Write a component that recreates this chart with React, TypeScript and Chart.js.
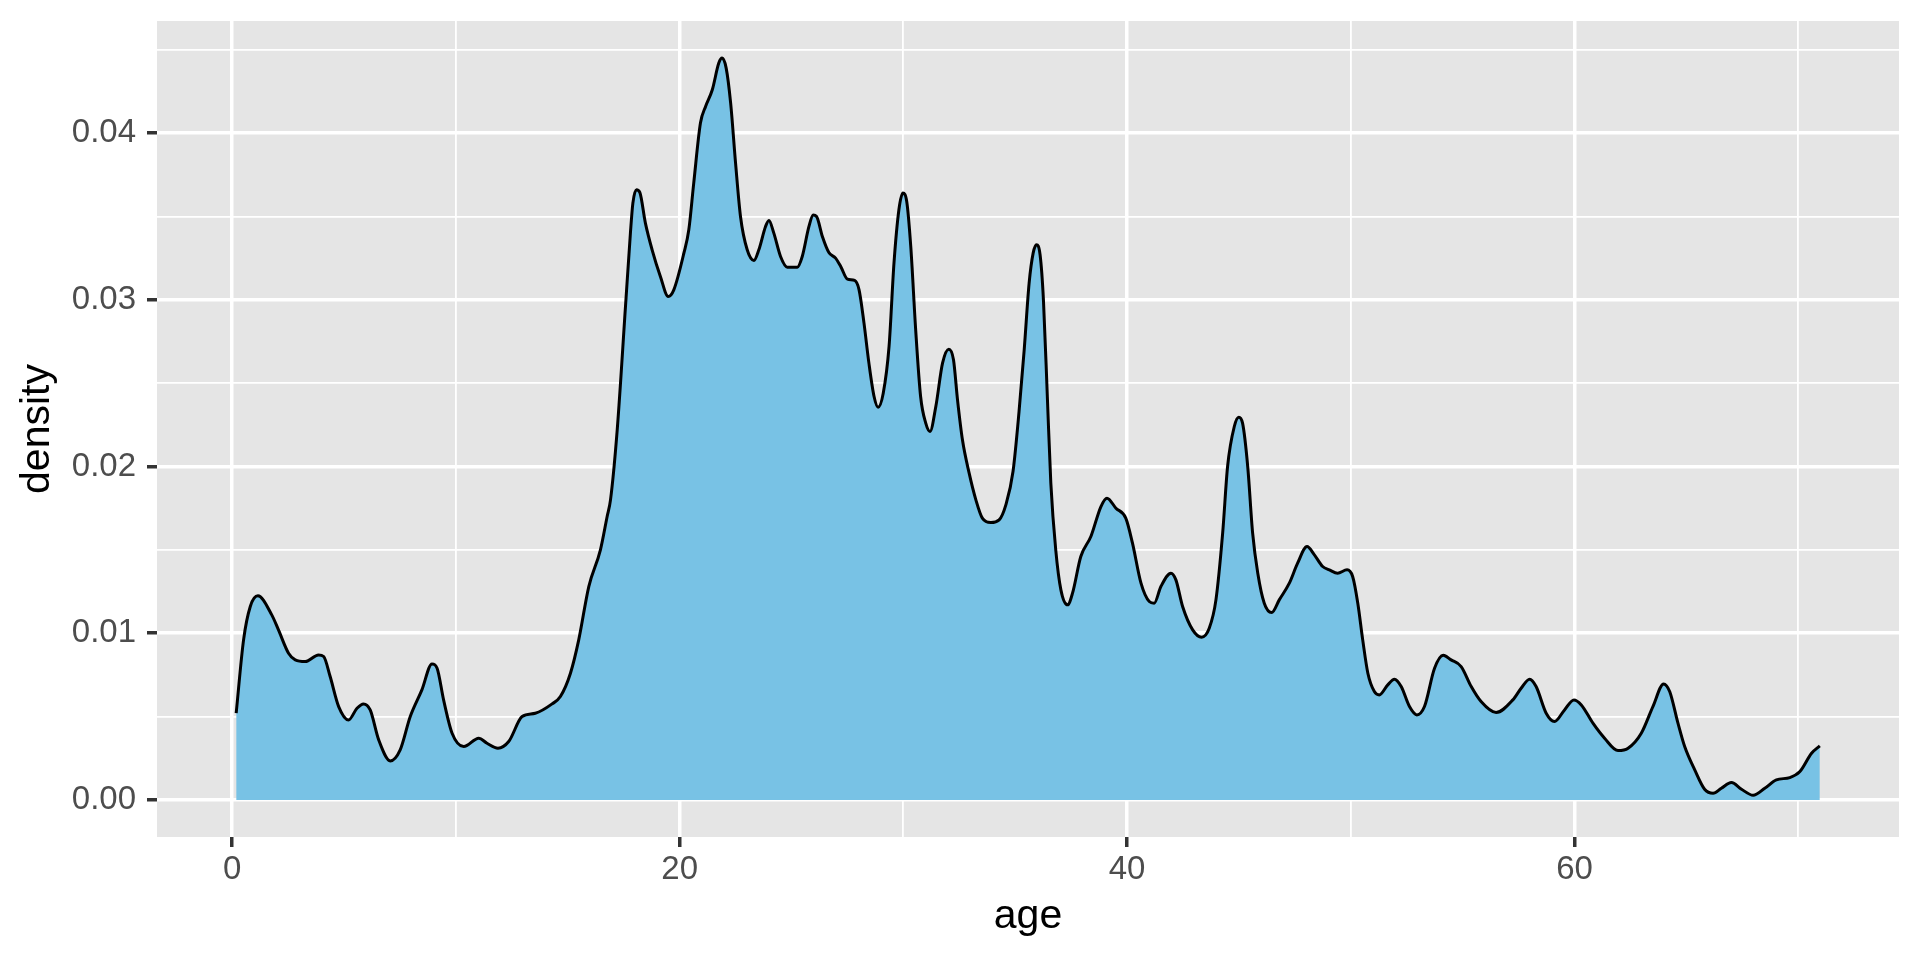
import React, { useEffect, useRef } from "react";
import { Chart, registerables } from "chart.js";

Chart.register(...registerables);

// Density curve (age -> density)
const ages = [
  0.18, 0.51, 0.81, 1.15, 1.77, 2.07, 2.52, 2.82, 3.27, 3.86, 4.09, 4.38, 4.76, 5.2, 5.58, 5.87,
  6.17, 6.55, 7.07, 7.51, 7.96, 8.48, 8.93, 9.16, 9.45, 9.83, 10.35, 11.02, 11.39, 11.88, 12.36,
  12.96, 13.55, 14.3, 14.67, 15.12, 15.49, 15.94, 16.46, 16.76, 16.91, 17.21, 17.58, 17.8, 17.91,
  18.07, 18.22, 18.47, 18.77, 19.14, 19.49, 19.74, 20.19, 20.41, 20.63, 20.93, 21.16, 21.46,
  21.75, 21.9, 22.08, 22.28, 22.5, 22.72, 23.02, 23.32, 23.54, 23.84, 23.99, 24.21, 24.51, 24.81,
  25.26, 25.48, 25.78, 25.97, 26.12, 26.38, 26.67, 26.97, 27.2, 27.5, 27.82, 28.02, 28.24, 28.46,
  28.69, 28.87, 29.1, 29.36, 29.58, 29.8, 29.98, 30.15, 30.33, 30.55, 30.77, 31.0, 31.19, 31.45,
  31.75, 32.03, 32.24, 32.42, 32.64, 32.94, 33.24, 33.53, 33.91, 34.28, 34.58, 34.9, 35.17, 35.4,
  35.62, 35.8, 35.95, 36.11, 36.26, 36.44, 36.59, 36.81, 37.04, 37.34, 37.56, 37.93, 38.38, 38.83,
  39.1, 39.5, 39.94, 40.24, 40.62, 40.99, 41.21, 41.51, 41.96, 42.18, 42.48, 42.93, 43.33, 43.67,
  43.97, 44.27, 44.49, 44.79, 44.99, 45.16, 45.39, 45.61, 45.84, 46.13, 46.46, 46.8, 47.25, 47.62,
  48.04, 48.37, 48.74, 49.04, 49.41, 49.83, 50.08, 50.31, 50.53, 50.76, 51.05, 51.27, 51.65, 51.95,
  52.25, 52.62, 52.95, 53.29, 53.74, 54.13, 54.48, 54.93, 55.38, 55.82, 56.49, 57.24, 57.61, 57.99,
  58.28, 58.73, 59.1, 59.55, 59.97, 60.3, 60.82, 61.34, 61.94, 62.39, 62.98, 63.5, 63.98, 64.25,
  64.62, 64.92, 65.37, 65.81, 66.19, 66.56, 67.01, 67.46, 67.98, 68.5, 69.02, 69.62, 70.07, 70.59,
  70.96,
];

const densities = [
  0.0052, 0.0096, 0.0116, 0.01224, 0.0111, 0.0102, 0.0088, 0.0084, 0.0083, 0.0087, 0.0086, 0.0074,
  0.0056, 0.0048, 0.0055, 0.00576, 0.0054, 0.0036, 0.00234, 0.003, 0.005, 0.0066, 0.00816, 0.0079,
  0.006, 0.004, 0.0032, 0.0037, 0.0034, 0.0031, 0.0035, 0.005, 0.0052, 0.00576, 0.0062, 0.0076,
  0.0096, 0.0128, 0.015, 0.017, 0.018, 0.0222, 0.0296, 0.034, 0.0358, 0.0366, 0.03644, 0.0346,
  0.033, 0.0314, 0.0302, 0.0306, 0.0328, 0.0342, 0.037, 0.0406, 0.0416, 0.0426, 0.0442, 0.0445,
  0.0439, 0.0418, 0.0382, 0.035, 0.033, 0.03236, 0.033, 0.0344, 0.03476, 0.034, 0.0326, 0.03196,
  0.03196, 0.0326, 0.0344, 0.03508, 0.035, 0.0338, 0.03284, 0.0325, 0.032, 0.03124, 0.03116,
  0.0306, 0.0286, 0.0262, 0.0242, 0.02356, 0.0244, 0.0272, 0.0322, 0.0354, 0.0364, 0.0359, 0.0332,
  0.0282, 0.0242, 0.0226, 0.0221, 0.0236, 0.0262, 0.02704, 0.0264, 0.024, 0.0216, 0.0196, 0.018,
  0.0169, 0.01664, 0.0168, 0.0177, 0.0197, 0.0233, 0.027, 0.031, 0.0328, 0.0333, 0.0327, 0.03,
  0.024, 0.019, 0.015, 0.0126, 0.0117, 0.0124, 0.0146, 0.0158, 0.0176, 0.0181, 0.0175, 0.0169,
  0.0154, 0.013, 0.0119, 0.0118, 0.0128, 0.0136, 0.0132, 0.0116, 0.0102, 0.00976, 0.0103, 0.012,
  0.016, 0.02, 0.0224, 0.02296, 0.0226, 0.02, 0.016, 0.0136, 0.0118, 0.01124, 0.012, 0.013, 0.0142,
  0.0152, 0.0147, 0.014, 0.0138, 0.0136, 0.0138, 0.0134, 0.0118, 0.0096, 0.0076, 0.0065, 0.0063,
  0.0069, 0.00724, 0.0068, 0.0056, 0.0051, 0.0056, 0.0079, 0.00868, 0.0084, 0.008, 0.0068, 0.0059,
  0.00524, 0.006, 0.0067, 0.00724, 0.0068, 0.0052, 0.0047, 0.0054, 0.006, 0.0057, 0.0046, 0.0037,
  0.00296, 0.0031, 0.004, 0.0056, 0.00696, 0.0065, 0.0046, 0.0032, 0.0018, 0.00064, 0.0004, 0.0007,
  0.00104, 0.00064, 0.00028, 0.0007, 0.0012, 0.00134, 0.0017, 0.0028, 0.00324,
];

const xMajorTicks = [0, 20, 40, 60];
const xMinorTicks = [10, 30, 50, 70];
const yMajorTicks = [0, 0.01, 0.02, 0.03, 0.04];
const yMinorTicks = [0.005, 0.015, 0.025, 0.035, 0.045];
const xTitle = "age";
const yTitle = "density";

const FONT = "'Liberation Sans', Arial, Helvetica, sans-serif";

export default function App() {
  const ref = useRef<HTMLCanvasElement>(null);

  useEffect(() => {
    if (!ref.current) return;
    const xMin = Math.min(...ages);
    const xMax = Math.max(...ages);
    const xPad = (xMax - xMin) * 0.05;
    const yLo = 0;
    const yHi = Math.max(...densities);
    const yPad = (yHi - yLo) * 0.05;

    const near = (v: number, list: number[]) => list.some((m) => Math.abs(m - v) < 1e-9);

    const panelBg = {
      id: "panelBg",
      beforeDraw(chart: any) {
        const { ctx, chartArea: a } = chart;
        ctx.save();
        ctx.fillStyle = "#E5E5E5";
        ctx.fillRect(a.left, a.top, a.right - a.left, a.bottom - a.top);
        ctx.restore();
      },
    };

    const chart = new Chart(ref.current, {
      type: "line",
      data: {
        datasets: [
          {
            data: ages.map((a, i) => ({ x: a, y: densities[i] })),
            borderColor: "#000000",
            borderWidth: 3,
            backgroundColor: "#78C2E5",
            fill: "origin",
            pointRadius: 0,
            cubicInterpolationMode: "monotone",
          },
        ],
      },
      options: {
        animation: false,
        responsive: true,
        maintainAspectRatio: false,
        layout: { padding: { left: 0, top: 21, right: 21, bottom: 0 } },
        plugins: { legend: { display: false }, tooltip: { enabled: false } },
        scales: {
          x: {
            type: "linear",
            min: xMin - xPad,
            max: xMax + xPad,
            afterBuildTicks: (s: any) => {
              s.ticks = [...xMajorTicks, ...xMinorTicks].sort((a, b) => a - b).map((v) => ({ value: v }));
            },
            afterFit: (s: any) => {
              s.height = 123;
              s.paddingLeft = 0;
              s.paddingRight = 0;
            },
            border: { display: false },
            grid: {
              color: "#FFFFFF",
              lineWidth: (c: any) => (near(c.tick?.value, xMajorTicks) ? 3.5 : 1.8),
              drawTicks: true,
              tickLength: 10,
              tickWidth: 3.5,
              tickColor: (c: any) => (near(c.tick?.value, xMajorTicks) ? "#333333" : "rgba(0,0,0,0)"),
            },
            ticks: {
              autoSkip: false,
              maxRotation: 0,
              padding: 3,
              color: "#4D4D4D",
              font: { family: FONT, size: 33 },
              callback: (v: any) => (near(Number(v), xMajorTicks) ? String(v) : ""),
            },
            title: {
              display: true,
              text: xTitle,
              color: "#000000",
              font: { family: FONT, size: 41 },
              padding: { top: 0, bottom: 19 },
            },
          },
          y: {
            type: "linear",
            min: yLo - yPad,
            max: yHi + yPad,
            afterBuildTicks: (s: any) => {
              s.ticks = [...yMajorTicks, ...yMinorTicks].sort((a, b) => a - b).map((v) => ({ value: v }));
            },
            afterFit: (s: any) => {
              s.width = 157;
              s.paddingTop = 0;
              s.paddingBottom = 0;
            },
            border: { display: false },
            grid: {
              color: "#FFFFFF",
              lineWidth: (c: any) => (near(c.tick?.value, yMajorTicks) ? 3.5 : 1.8),
              drawTicks: true,
              tickLength: 10,
              tickWidth: 3.5,
              tickColor: (c: any) => (near(c.tick?.value, yMajorTicks) ? "#333333" : "rgba(0,0,0,0)"),
            },
            ticks: {
              autoSkip: false,
              padding: 11,
              color: "#4D4D4D",
              font: { family: FONT, size: 33 },
              callback: (v: any) => (near(Number(v), yMajorTicks) ? Number(v).toFixed(2) : ""),
            },
            title: {
              display: true,
              text: yTitle,
              color: "#000000",
              font: { family: FONT, size: 41 },
              padding: { top: 13, bottom: 0 },
            },
          },
        },
      },
      plugins: [panelBg],
    });

    return () => chart.destroy();
  }, []);

  return (
    <div style={{ position: "absolute", left: 0, top: 0, width: 1920, height: 960, background: "#FFFFFF" }}>
      <canvas ref={ref} />
    </div>
  );
}
